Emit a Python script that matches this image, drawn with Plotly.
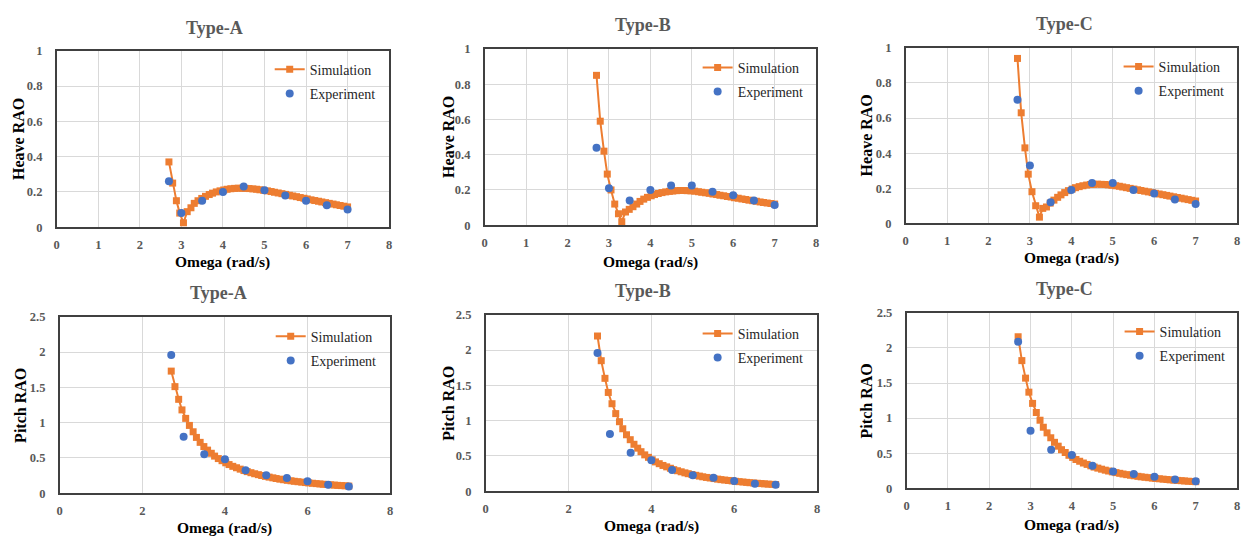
import plotly.graph_objects as go

# ---------------- data ----------------
omega_sim = [2.70, 2.79, 2.88, 2.96, 3.05, 3.14, 3.23, 3.31, 3.40, 3.49,
             3.58, 3.67, 3.75, 3.84, 3.93, 4.02, 4.10, 4.19, 4.28, 4.37,
             4.46, 4.54, 4.63, 4.72, 4.81, 4.89, 4.98, 5.07, 5.16, 5.24,
             5.33, 5.42, 5.51, 5.60, 5.68, 5.77, 5.86, 5.95, 6.03, 6.12,
             6.21, 6.30, 6.38, 6.47, 6.56, 6.65, 6.73, 6.82, 6.91, 7.00]
omega_exp = [2.7, 3.0, 3.5, 4.0, 4.5, 5.0, 5.5, 6.0, 6.5, 7.0]

heave_sim_A = [0.37, 0.25, 0.15, 0.08, 0.025, 0.088, 0.11, 0.135, 0.15, 0.163,
               0.175, 0.185, 0.193, 0.200, 0.206, 0.211, 0.215, 0.218, 0.220, 0.221,
               0.221, 0.220, 0.219, 0.217, 0.215, 0.212, 0.209, 0.206, 0.202, 0.198,
               0.194, 0.190, 0.186, 0.181, 0.177, 0.173, 0.168, 0.164, 0.160, 0.155,
               0.151, 0.147, 0.143, 0.139, 0.135, 0.131, 0.127, 0.123, 0.119, 0.115]
heave_exp_A = [0.26, 0.08, 0.15, 0.20, 0.23, 0.21, 0.18, 0.15, 0.125, 0.10]

heave_sim_B = [0.85, 0.59, 0.42, 0.29, 0.20, 0.12, 0.065, 0.02, 0.075, 0.09,
               0.105, 0.12, 0.135, 0.148, 0.158, 0.167, 0.174, 0.180, 0.185, 0.189,
               0.192, 0.194, 0.196, 0.197, 0.197, 0.196, 0.195, 0.193, 0.190, 0.187,
               0.184, 0.181, 0.177, 0.174, 0.170, 0.167, 0.163, 0.160, 0.156, 0.153,
               0.149, 0.146, 0.142, 0.139, 0.136, 0.132, 0.129, 0.126, 0.123, 0.120]
heave_exp_B = [0.44, 0.21, 0.14, 0.20, 0.225, 0.225, 0.19, 0.17, 0.14, 0.115]

heave_sim_C = [0.94, 0.63, 0.43, 0.28, 0.18, 0.10, 0.035, 0.085, 0.093, 0.115,
               0.132, 0.148, 0.162, 0.175, 0.186, 0.195, 0.203, 0.209, 0.214, 0.218,
               0.221, 0.222, 0.223, 0.222, 0.221, 0.219, 0.217, 0.214, 0.211, 0.207,
               0.203, 0.199, 0.195, 0.191, 0.187, 0.183, 0.179, 0.175, 0.171, 0.167,
               0.163, 0.159, 0.155, 0.151, 0.147, 0.143, 0.139, 0.135, 0.131, 0.127]
heave_exp_C = [0.705, 0.33, 0.12, 0.19, 0.23, 0.23, 0.19, 0.17, 0.135, 0.11]

pitch_sim_A = [1.73, 1.51, 1.33, 1.18, 1.06, 0.96, 0.87, 0.79, 0.72, 0.66,
               0.61, 0.565, 0.525, 0.49, 0.46, 0.43, 0.405, 0.38, 0.36, 0.34,
               0.32, 0.305, 0.29, 0.275, 0.262, 0.25, 0.238, 0.227, 0.217, 0.207,
               0.198, 0.19, 0.182, 0.175, 0.168, 0.162, 0.156, 0.15, 0.145, 0.14,
               0.135, 0.13, 0.126, 0.122, 0.118, 0.114, 0.11, 0.107, 0.104, 0.10]
pitch_exp_A = [1.96, 0.80, 0.55, 0.48, 0.325, 0.255, 0.215, 0.17, 0.12, 0.095]

pitch_sim_B = [2.20, 1.85, 1.60, 1.40, 1.24, 1.10, 0.985, 0.885, 0.80, 0.73,
               0.665, 0.61, 0.56, 0.515, 0.48, 0.445, 0.415, 0.39, 0.365, 0.345,
               0.325, 0.305, 0.29, 0.275, 0.26, 0.248, 0.236, 0.225, 0.214, 0.204,
               0.195, 0.187, 0.179, 0.171, 0.164, 0.158, 0.152, 0.146, 0.14, 0.135,
               0.13, 0.125, 0.12, 0.116, 0.112, 0.108, 0.104, 0.10, 0.097, 0.094]
pitch_exp_B = [1.96, 0.81, 0.545, 0.44, 0.30, 0.225, 0.19, 0.145, 0.105, 0.09]

pitch_sim_C = [2.16, 1.82, 1.57, 1.37, 1.21, 1.08, 0.97, 0.87, 0.79, 0.72,
               0.655, 0.60, 0.55, 0.51, 0.47, 0.44, 0.41, 0.385, 0.36, 0.34,
               0.32, 0.302, 0.287, 0.272, 0.258, 0.246, 0.234, 0.223, 0.213, 0.203,
               0.194, 0.186, 0.178, 0.17, 0.163, 0.157, 0.151, 0.145, 0.14, 0.135,
               0.13, 0.125, 0.12, 0.116, 0.112, 0.108, 0.104, 0.10, 0.097, 0.094]
pitch_exp_C = [2.09, 0.82, 0.55, 0.475, 0.32, 0.24, 0.205, 0.165, 0.125, 0.10]

panel_titles = ["Type-A", "Type-B", "Type-C", "Type-A", "Type-B", "Type-C"]
y_titles = ["Heave RAO"] * 3 + ["Pitch RAO"] * 3
x_title = "Omega (rad/s)"
sim_name = "Simulation"
exp_name = "Experiment"

sim_sets = [heave_sim_A, heave_sim_B, heave_sim_C, pitch_sim_A, pitch_sim_B, pitch_sim_C]
exp_sets = [heave_exp_A, heave_exp_B, heave_exp_C, pitch_exp_A, pitch_exp_B, pitch_exp_C]

# ---------------- layout (pixels) ----------------
W, H = 1245, 543
# plot area boxes: x0, x1, y0(top), y1(bottom)
boxes = [(54, 388, 45, 226), (484, 817, 43, 224), (907, 1240, 42, 222),
         (57, 389, 318, 499), (485, 818, 316, 497), (908, 1240, 314, 494)]
title_pos = [(213, 22), (643, 18), (1067, 17), (217, 294), (643, 292), (1067, 289)]
ytitle_x = [15, 447, 868, 18, 447, 868]
xtitle_y = [262, 262, 258, 535, 533, 532]
legend_pos = [(268, 48), (698, 46), (1121, 45), (269, 322), (698, 319), (1122, 317)]
x_dticks = [1, 1, 1, 2, 2, 1]
y_ranges = [(0, 1), (0, 1), (0, 1), (0, 2.5), (0, 2.5), (0, 2.5)]
y_dticks = [0.2, 0.2, 0.2, 0.5, 0.5, 0.5]

ORANGE = "#ED7D31"
BLUE = "#4472C4"
SERIF = "Liberation Serif"
GRAY = "#595959"

fig = go.Figure()
layout = dict(width=W, height=H, margin=dict(l=0, r=0, t=0, b=0),
              paper_bgcolor="white", plot_bgcolor="white", showlegend=True,
              font=dict(family=SERIF, color="#262626"))
annotations = []

def px_x(v):
    return v / W

def px_y(v):
    return 1 - v / H

for i in range(6):
    k = "" if i == 0 else str(i + 1)
    xa, ya = "x" + k, "y" + k
    lg = "legend" + k
    x0, x1, y0, y1 = boxes[i]
    fig.add_trace(go.Scatter(
        x=omega_sim, y=sim_sets[i], name=sim_name, mode="lines+markers",
        line=dict(color=ORANGE, width=2),
        marker=dict(symbol="square", size=7, color=ORANGE),
        xaxis=xa, yaxis=ya, legend=lg, legendgroup="s%d" % i, cliponaxis=False))
    fig.add_trace(go.Scatter(
        x=omega_exp, y=exp_sets[i], name=exp_name, mode="markers",
        marker=dict(symbol="circle", size=8, color=BLUE),
        xaxis=xa, yaxis=ya, legend=lg, legendgroup="e%d" % i, cliponaxis=False))

    layout["xaxis" + k] = dict(
        domain=[px_x(x0), px_x(x1)], anchor=ya, range=[0, 8], dtick=x_dticks[i],
        tick0=0, showgrid=True, gridcolor="#d9d9d9", gridwidth=1, zeroline=False,
        showline=True, linecolor="#404040", linewidth=1.5, mirror=True,
        ticks="", ticklabelstandoff=5,
        tickfont=dict(family=SERIF, size=12.5, color=GRAY, weight="bold"))
    layout["yaxis" + k] = dict(
        domain=[px_y(y1), px_y(y0)], anchor=xa, range=list(y_ranges[i]),
        dtick=y_dticks[i], tick0=0, showgrid=True, gridcolor="#d9d9d9", gridwidth=1,
        zeroline=False, showline=True, linecolor="#404040", linewidth=1.5, mirror=True,
        ticks="", ticklabelstandoff=10,
        tickfont=dict(family=SERIF, size=12.5, color=GRAY, weight="bold"))
    lx, ly = legend_pos[i]
    layout[lg] = dict(
        x=px_x(lx), y=px_y(ly), xanchor="left", yanchor="top",
        xref="paper", yref="paper", bgcolor="rgba(0,0,0,0)", borderwidth=0,
        font=dict(family=SERIF, size=14, color="#262626"),
        traceorder="grouped", tracegroupgap=3, itemwidth=30)

    tx, ty = title_pos[i]
    annotations.append(dict(
        text=panel_titles[i], x=px_x(tx), y=px_y(ty), xref="paper", yref="paper",
        xanchor="center", yanchor="middle", showarrow=False,
        font=dict(family=SERIF, size=18, color=GRAY, weight="bold")))
    annotations.append(dict(
        text=x_title, x=px_x((x0 + x1) / 2), y=px_y(xtitle_y[i]), xref="paper",
        yref="paper", xanchor="center", yanchor="middle", showarrow=False,
        font=dict(family=SERIF, size=15.5, color="black", weight="bold")))
    annotations.append(dict(
        text=y_titles[i], x=px_x(ytitle_x[i]), y=px_y((y0 + y1) / 2), xref="paper",
        yref="paper", xanchor="center", yanchor="middle", showarrow=False, textangle=-90,
        font=dict(family=SERIF, size=16, color="black", weight="bold")))

layout["annotations"] = annotations
fig.update_layout(**layout)
fig.write_html("out.html", config={"displayModeBar": False},
               post_script="document.body.style.margin='0';document.body.style.overflow='hidden';")
